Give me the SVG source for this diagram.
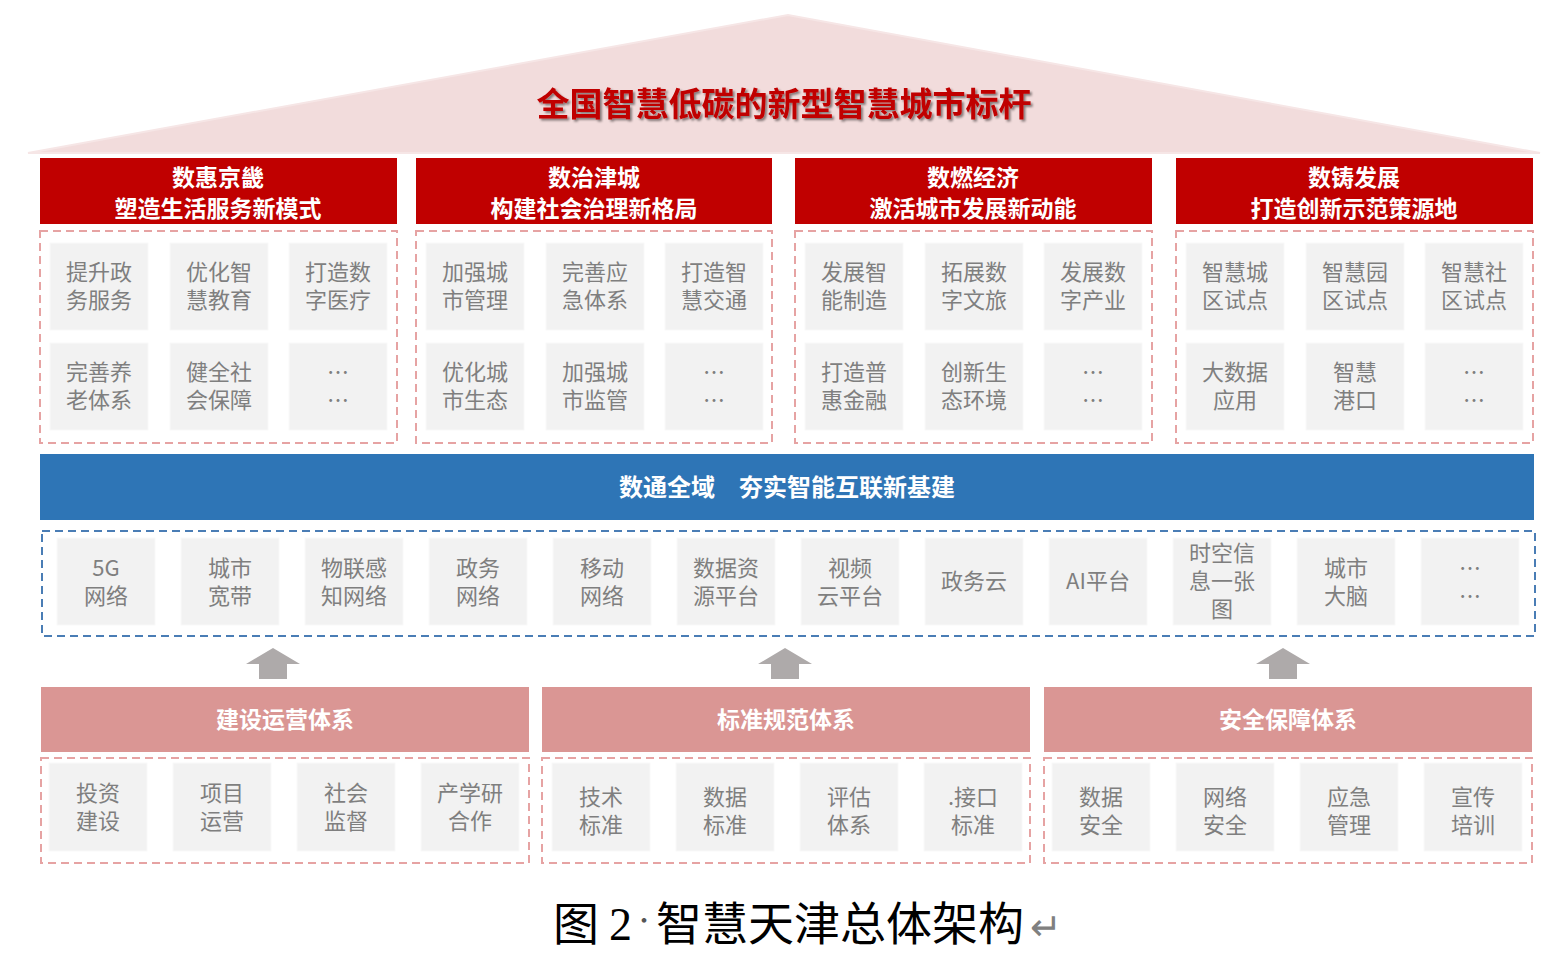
<svg xmlns="http://www.w3.org/2000/svg" width="1550" height="965" viewBox="0 0 1550 965">
<style>
.cell{fill:#f2f2f2;stroke:#f9f9f9;stroke-width:1}
.ct{font-family:"Noto Sans CJK SC","Microsoft YaHei",sans-serif;font-size:22px;fill:#7f7f7f;text-anchor:middle}
.hd{fill:#c00000}
.ht{font-family:"Noto Sans CJK SC",sans-serif;font-size:23px;font-weight:bold;fill:#ffffff;text-anchor:middle}
.dashR{fill:none;stroke:#e6a3a3;stroke-width:2;stroke-dasharray:8 5}
.dashB{fill:none;stroke:#4a7db5;stroke-width:2;stroke-dasharray:8 5}
.ph{fill:#da9694}
.arrow{fill:#aeaaaa}
</style>
<defs>
<filter id="sh" x="-5%" y="-30%" width="110%" height="160%">
<feDropShadow dx="2" dy="2" stdDeviation="1" flood-color="#000000" flood-opacity="0.45"/>
</filter>
</defs>

<g id="roof">
<polygon points="28,153 788,15 1540,153" fill="#f2dcdc" stroke="#f6e6e6" stroke-width="2"/>
<text x="784" y="116" font-family="Noto Sans CJK SC,sans-serif" font-size="33" font-weight="bold" fill="#c00000" text-anchor="middle" filter="url(#sh)">全国智慧低碳的新型智慧城市标杆</text>
</g>

<g id="col1">
<rect class="hd" x="40" y="158" width="357" height="66"/>
<text class="ht" y="186"><tspan x="218">数惠京畿</tspan><tspan x="218" dy="31">塑造生活服务新模式</tspan></text>
<rect class="dashR" x="40" y="231" width="357" height="212"/>
<rect class="cell" x="50" y="243" width="98" height="87"/><text class="ct" y="280"><tspan x="99">提升政</tspan><tspan x="99" dy="28">务服务</tspan></text>
<rect class="cell" x="170" y="243" width="98" height="87"/><text class="ct" y="280"><tspan x="219">优化智</tspan><tspan x="219" dy="28">慧教育</tspan></text>
<rect class="cell" x="289" y="243" width="98" height="87"/><text class="ct" y="280"><tspan x="338">打造数</tspan><tspan x="338" dy="28">字医疗</tspan></text>
<rect class="cell" x="50" y="343" width="98" height="87"/><text class="ct" y="380"><tspan x="99">完善养</tspan><tspan x="99" dy="28">老体系</tspan></text>
<rect class="cell" x="170" y="343" width="98" height="87"/><text class="ct" y="380"><tspan x="219">健全社</tspan><tspan x="219" dy="28">会保障</tspan></text>
<rect class="cell" x="289" y="343" width="98" height="87"/><text class="ct" y="380"><tspan x="338">…</tspan><tspan x="338" dy="28">…</tspan></text>
</g>

<g id="col2">
<rect class="hd" x="416" y="158" width="356" height="66"/>
<text class="ht" y="186"><tspan x="594">数治津城</tspan><tspan x="594" dy="31">构建社会治理新格局</tspan></text>
<rect class="dashR" x="416" y="231" width="356" height="212"/>
<rect class="cell" x="426" y="243" width="98" height="87"/><text class="ct" y="280"><tspan x="475">加强城</tspan><tspan x="475" dy="28">市管理</tspan></text>
<rect class="cell" x="546" y="243" width="98" height="87"/><text class="ct" y="280"><tspan x="595">完善应</tspan><tspan x="595" dy="28">急体系</tspan></text>
<rect class="cell" x="665" y="243" width="98" height="87"/><text class="ct" y="280"><tspan x="714">打造智</tspan><tspan x="714" dy="28">慧交通</tspan></text>
<rect class="cell" x="426" y="343" width="98" height="87"/><text class="ct" y="380"><tspan x="475">优化城</tspan><tspan x="475" dy="28">市生态</tspan></text>
<rect class="cell" x="546" y="343" width="98" height="87"/><text class="ct" y="380"><tspan x="595">加强城</tspan><tspan x="595" dy="28">市监管</tspan></text>
<rect class="cell" x="665" y="343" width="98" height="87"/><text class="ct" y="380"><tspan x="714">…</tspan><tspan x="714" dy="28">…</tspan></text>
</g>

<g id="col3">
<rect class="hd" x="795" y="158" width="357" height="66"/>
<text class="ht" y="186"><tspan x="973">数燃经济</tspan><tspan x="973" dy="31">激活城市发展新动能</tspan></text>
<rect class="dashR" x="795" y="231" width="357" height="212"/>
<rect class="cell" x="805" y="243" width="98" height="87"/><text class="ct" y="280"><tspan x="854">发展智</tspan><tspan x="854" dy="28">能制造</tspan></text>
<rect class="cell" x="925" y="243" width="98" height="87"/><text class="ct" y="280"><tspan x="974">拓展数</tspan><tspan x="974" dy="28">字文旅</tspan></text>
<rect class="cell" x="1044" y="243" width="98" height="87"/><text class="ct" y="280"><tspan x="1093">发展数</tspan><tspan x="1093" dy="28">字产业</tspan></text>
<rect class="cell" x="805" y="343" width="98" height="87"/><text class="ct" y="380"><tspan x="854">打造普</tspan><tspan x="854" dy="28">惠金融</tspan></text>
<rect class="cell" x="925" y="343" width="98" height="87"/><text class="ct" y="380"><tspan x="974">创新生</tspan><tspan x="974" dy="28">态环境</tspan></text>
<rect class="cell" x="1044" y="343" width="98" height="87"/><text class="ct" y="380"><tspan x="1093">…</tspan><tspan x="1093" dy="28">…</tspan></text>
</g>

<g id="col4">
<rect class="hd" x="1176" y="158" width="357" height="66"/>
<text class="ht" y="186"><tspan x="1354">数铸发展</tspan><tspan x="1354" dy="31">打造创新示范策源地</tspan></text>
<rect class="dashR" x="1176" y="231" width="357" height="212"/>
<rect class="cell" x="1186" y="243" width="98" height="87"/><text class="ct" y="280"><tspan x="1235">智慧城</tspan><tspan x="1235" dy="28">区试点</tspan></text>
<rect class="cell" x="1306" y="243" width="98" height="87"/><text class="ct" y="280"><tspan x="1355">智慧园</tspan><tspan x="1355" dy="28">区试点</tspan></text>
<rect class="cell" x="1425" y="243" width="98" height="87"/><text class="ct" y="280"><tspan x="1474">智慧社</tspan><tspan x="1474" dy="28">区试点</tspan></text>
<rect class="cell" x="1186" y="343" width="98" height="87"/><text class="ct" y="380"><tspan x="1235">大数据</tspan><tspan x="1235" dy="28">应用</tspan></text>
<rect class="cell" x="1306" y="343" width="98" height="87"/><text class="ct" y="380"><tspan x="1355">智慧</tspan><tspan x="1355" dy="28">港口</tspan></text>
<rect class="cell" x="1425" y="343" width="98" height="87"/><text class="ct" y="380"><tspan x="1474">…</tspan><tspan x="1474" dy="28">…</tspan></text>
</g>

<g id="infra">
<rect x="40" y="454" width="1494" height="66" fill="#2e75b6"/>
<text x="787" y="496" font-family="Noto Sans CJK SC,sans-serif" font-size="24" font-weight="bold" fill="#ffffff" text-anchor="middle">数通全域　夯实智能互联新基建</text>
</g>

<g id="network">
<rect class="dashB" x="42" y="531" width="1493" height="105"/>
<rect class="cell" x="57" y="538" width="98" height="87"/><text class="ct" y="576"><tspan x="106">5G</tspan><tspan x="106" dy="28">网络</tspan></text>
<rect class="cell" x="181" y="538" width="98" height="87"/><text class="ct" y="576"><tspan x="230">城市</tspan><tspan x="230" dy="28">宽带</tspan></text>
<rect class="cell" x="305" y="538" width="98" height="87"/><text class="ct" y="576"><tspan x="354">物联感</tspan><tspan x="354" dy="28">知网络</tspan></text>
<rect class="cell" x="429" y="538" width="98" height="87"/><text class="ct" y="576"><tspan x="478">政务</tspan><tspan x="478" dy="28">网络</tspan></text>
<rect class="cell" x="553" y="538" width="98" height="87"/><text class="ct" y="576"><tspan x="602">移动</tspan><tspan x="602" dy="28">网络</tspan></text>
<rect class="cell" x="677" y="538" width="98" height="87"/><text class="ct" y="576"><tspan x="726">数据资</tspan><tspan x="726" dy="28">源平台</tspan></text>
<rect class="cell" x="801" y="538" width="98" height="87"/><text class="ct" y="576"><tspan x="850">视频</tspan><tspan x="850" dy="28">云平台</tspan></text>
<rect class="cell" x="925" y="538" width="98" height="87"/><text class="ct" x="974" y="589">政务云</text>
<rect class="cell" x="1049" y="538" width="98" height="87"/><text class="ct" x="1098" y="589">AI平台</text>
<rect class="cell" x="1173" y="538" width="98" height="87"/><text class="ct" y="561"><tspan x="1222">时空信</tspan><tspan x="1222" dy="28">息一张</tspan><tspan x="1222" dy="28">图</tspan></text>
<rect class="cell" x="1297" y="538" width="98" height="87"/><text class="ct" y="576"><tspan x="1346">城市</tspan><tspan x="1346" dy="28">大脑</tspan></text>
<rect class="cell" x="1421" y="538" width="98" height="87"/><text class="ct" y="576"><tspan x="1470">…</tspan><tspan x="1470" dy="28">…</tspan></text>
</g>

<g id="connectors">
<polygon class="arrow" points="273,648 300,664 287,664 287,679 259,679 259,664 246,664"/>
<polygon class="arrow" points="785,648 812,664 799,664 799,679 771,679 771,664 758,664"/>
<polygon class="arrow" points="1283,648 1310,664 1297,664 1297,679 1269,679 1269,664 1256,664"/>
</g>

<g id="build">
<rect class="ph" x="41" y="687" width="488" height="65"/>
<text class="ht" x="285" y="728">建设运营体系</text>
<rect class="dashR" x="41" y="758" width="488" height="105"/>
<rect class="cell" x="49" y="763" width="98" height="88"/><text class="ct" y="801"><tspan x="98">投资</tspan><tspan x="98" dy="28">建设</tspan></text>
<rect class="cell" x="173" y="763" width="98" height="88"/><text class="ct" y="801"><tspan x="222">项目</tspan><tspan x="222" dy="28">运营</tspan></text>
<rect class="cell" x="297" y="763" width="98" height="88"/><text class="ct" y="801"><tspan x="346">社会</tspan><tspan x="346" dy="28">监督</tspan></text>
<rect class="cell" x="421" y="763" width="98" height="88"/><text class="ct" y="801"><tspan x="470">产学研</tspan><tspan x="470" dy="28">合作</tspan></text>
</g>

<g id="standard">
<rect class="ph" x="542" y="687" width="488" height="65"/>
<text class="ht" x="786" y="728">标准规范体系</text>
<rect class="dashR" x="542" y="758" width="488" height="105"/>
<rect class="cell" x="552" y="763" width="98" height="88"/><text class="ct" y="805"><tspan x="601">技术</tspan><tspan x="601" dy="28">标准</tspan></text>
<rect class="cell" x="676" y="763" width="98" height="88"/><text class="ct" y="805"><tspan x="725">数据</tspan><tspan x="725" dy="28">标准</tspan></text>
<rect class="cell" x="800" y="763" width="98" height="88"/><text class="ct" y="805"><tspan x="849">评估</tspan><tspan x="849" dy="28">体系</tspan></text>
<rect class="cell" x="924" y="763" width="98" height="88"/><text class="ct" y="805"><tspan x="973">.接口</tspan><tspan x="973" dy="28">标准</tspan></text>
</g>

<g id="security">
<rect class="ph" x="1044" y="687" width="488" height="65"/>
<text class="ht" x="1288" y="728">安全保障体系</text>
<rect class="dashR" x="1044" y="758" width="488" height="105"/>
<rect class="cell" x="1052" y="763" width="98" height="88"/><text class="ct" y="805"><tspan x="1101">数据</tspan><tspan x="1101" dy="28">安全</tspan></text>
<rect class="cell" x="1176" y="763" width="98" height="88"/><text class="ct" y="805"><tspan x="1225">网络</tspan><tspan x="1225" dy="28">安全</tspan></text>
<rect class="cell" x="1300" y="763" width="98" height="88"/><text class="ct" y="805"><tspan x="1349">应急</tspan><tspan x="1349" dy="28">管理</tspan></text>
<rect class="cell" x="1424" y="763" width="98" height="88"/><text class="ct" y="805"><tspan x="1473">宣传</tspan><tspan x="1473" dy="28">培训</tspan></text>
</g>

<g id="caption">
<text y="940" font-family="Noto Sans CJK SC,sans-serif" font-size="46" fill="#000000"><tspan x="553">图</tspan><tspan x="609" font-family="Liberation Serif,serif">2</tspan><tspan x="633" font-size="22" fill="#555555" dy="-12">·</tspan><tspan x="656" dy="12">智慧天津总体架构</tspan><tspan x="1030" font-size="38" fill="#808080">↵</tspan></text>
</g>
</svg>
